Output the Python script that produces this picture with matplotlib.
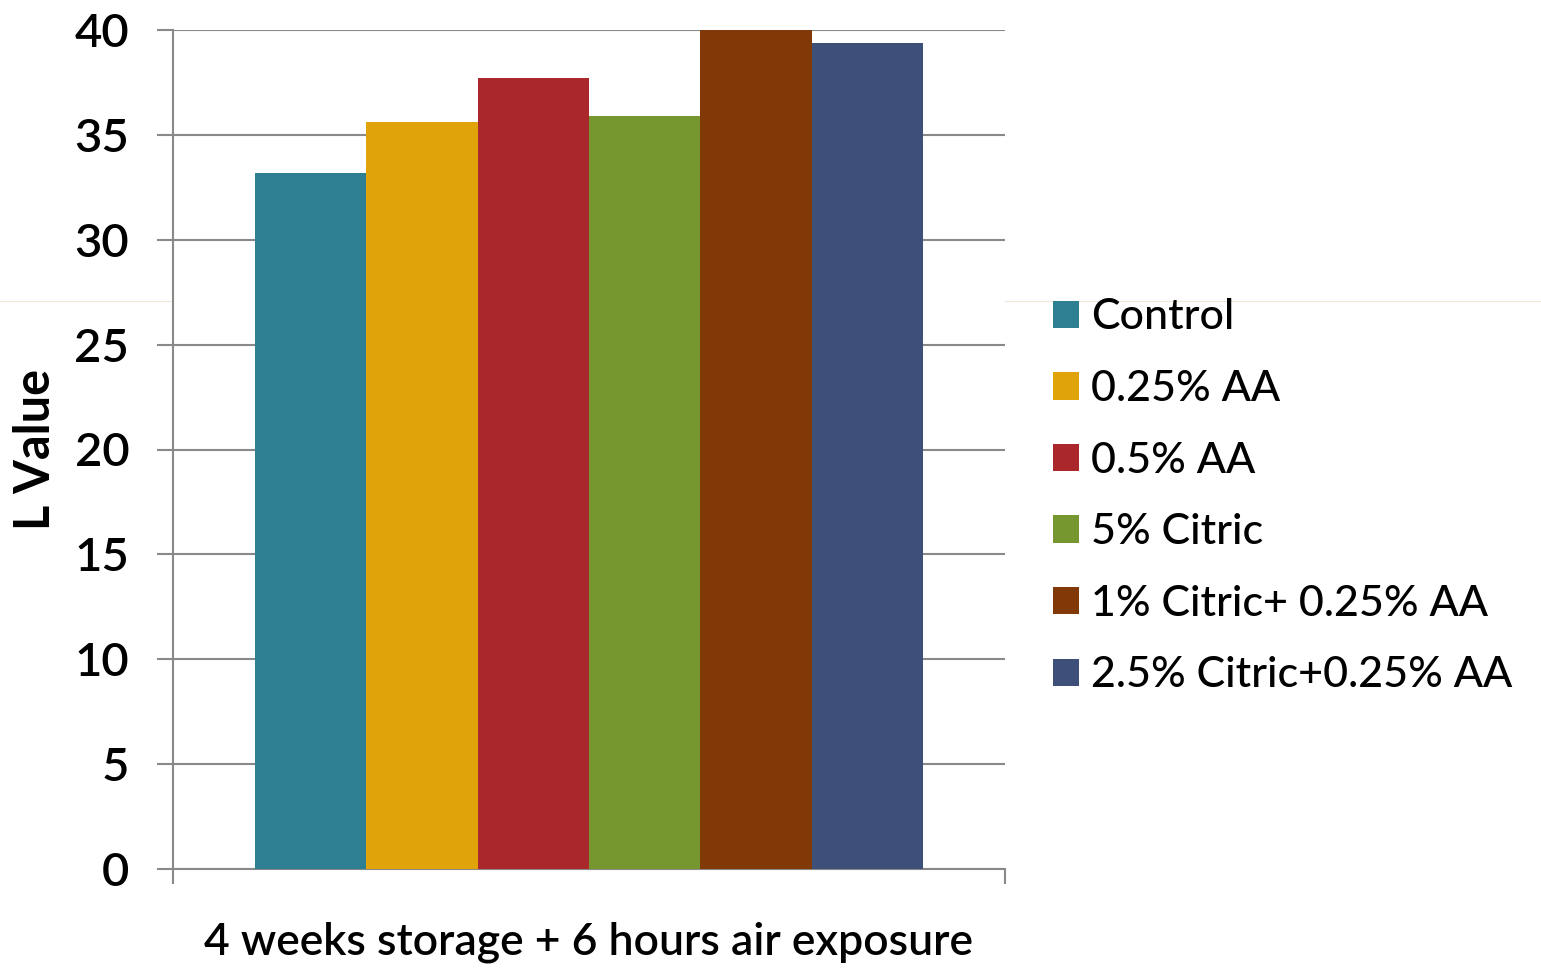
import matplotlib
matplotlib.use("Agg")
import matplotlib.pyplot as plt
from matplotlib.lines import Line2D
import numpy as np

# Treatment groups and their mean L values
treatments = ["Control", "0.25% AA", "0.5% AA", "5% Citric",
              "1% Citric+ 0.25% AA", "2.5% Citric+0.25% AA"]
l_values = [33.2, 35.6, 37.7, 35.9, 40.0, 39.4]
colors = ["#2E7F91", "#E0A30A", "#AA272B", "#76962F", "#823908", "#3E5079"]
category_label = "4 weeks storage + 6 hours air exposure"
y_ticks = [0, 5, 10, 15, 20, 25, 30, 35, 40]

plt.rcParams["font.family"] = ["Lato", "DejaVu Sans"]

fig = plt.figure(figsize=(15.41, 9.68), dpi=100)
ax = fig.add_axes([173 / 1541, 99 / 968, 832 / 1541, 839 / 968])

grid_c = "#898989"
group_w = 0.803
n = len(treatments)
bw = group_w / n
offsets = (np.arange(n) - (n - 1) / 2) * bw
for off, val, col, name in zip(offsets, l_values, colors, treatments):
    ax.bar(off, val, width=bw, color=col, label=name, zorder=3, linewidth=0)

ax.set_xlim(-0.5, 0.5)
ax.set_ylim(0, 40)
ax.set_yticks(y_ticks)
ax.set_yticklabels([str(t) for t in y_ticks], fontsize=34, color="black",
                   fontweight="semibold")
ax.yaxis.grid(True, color=grid_c, linewidth=1.5, zorder=0)
ax.tick_params(axis="y", length=11.5, width=1.5, color=grid_c, pad=20)
ax.set_xticks([-0.5, 0.5])
ax.set_xticklabels(["", ""])
ax.tick_params(axis="x", length=11, width=1.5, color=grid_c)

for s in ("top", "right"):
    ax.spines[s].set_visible(False)
for s in ("left", "bottom"):
    ax.spines[s].set_color(grid_c)
    ax.spines[s].set_linewidth(1.5)

ax.set_ylabel("L Value", fontsize=35, fontweight="bold", labelpad=12)
fig.text(588 / 1541, 1 - 942 / 968, category_label, fontsize=32,
         ha="center", va="center", fontweight="semibold")

leg = ax.legend(loc="upper left", bbox_to_anchor=(1.0577, 0.680), frameon=False,
                handlelength=0.6, handleheight=0.6,
                handletextpad=0.28, labelspacing=0.78, borderaxespad=0,
                borderpad=0, prop={"size": 31, "weight": "medium"})

# faint horizontal rule across the page
fig.add_artist(Line2D([0, 1], [1 - 301 / 968] * 2, transform=fig.transFigure,
                      color="#EEE7D8", linewidth=0.8, zorder=0))

fig.savefig("out.png", dpi=100)
